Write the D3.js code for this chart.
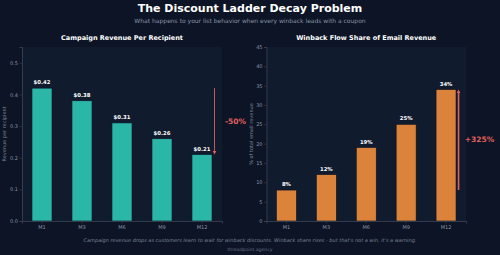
<!doctype html>
<html>
<head>
<meta charset="UTF-8">
<title>The Discount Ladder Decay Problem</title>
<script src="https://d3js.org/d3.v7.min.js"></script>
<style>
  body { margin: 0; background: #0c1425; }
  svg { display: block; font-family: "DejaVu Sans", sans-serif; }
</style>
</head>
<body>
<svg id="chart" width="500" height="255"></svg>
<script>
// data
var months = ["M1", "M3", "M6", "M9", "M12"];
var revenuePerRecipient = [0.42, 0.38, 0.31, 0.26, 0.21];
var winbackShare = [8, 12, 19, 25, 34];
var revTicks = [0, 0.1, 0.2, 0.3, 0.4, 0.5];
var shareTicks = [0, 5, 10, 15, 20, 25, 30, 35, 40, 45];

var svg = d3.select("#chart");
svg.append("rect").attr("width", 500).attr("height", 255).attr("fill", "#0c1425");

// titles
svg.append("text").attr("x", 250).attr("y", 12).attr("text-anchor", "middle")
   .attr("fill", "#ffffff").attr("font-size", 11).attr("font-weight", "bold")
   .text("The Discount Ladder Decay Problem");
svg.append("text").attr("x", 250).attr("y", 22.5).attr("text-anchor", "middle")
   .attr("fill", "#8a93a5").attr("font-size", 6)
   .text("What happens to your list behavior when every winback leads with a coupon");

function panel(opts) {
  var g = svg.append("g");
  var x = d3.scaleBand().domain(months).range([opts.x0, opts.x1])
            .paddingInner(0.5).paddingOuter(0.25);
  var y = d3.scaleLinear().domain([0, opts.ymax]).range([221, 47]);

  g.append("rect").attr("x", opts.x0).attr("y", 47)
   .attr("width", opts.x1 - opts.x0).attr("height", 221 - 47)
   .attr("fill", "#111b2e");

  g.append("text").attr("x", (opts.x0 + opts.x1) / 2).attr("y", 39.5)
   .attr("text-anchor", "middle").attr("fill", "#ffffff")
   .attr("font-size", 6.5).attr("font-weight", "bold").text(opts.title);

  g.selectAll("rect.bar").data(opts.values).enter().append("rect")
   .attr("class", "bar")
   .attr("x", function(d, i) { return x(months[i]); })
   .attr("y", function(d) { return y(d); })
   .attr("width", x.bandwidth())
   .attr("height", function(d) { return y(0) - y(d); })
   .attr("fill", opts.color)
   .attr("stroke", "#0c1425").attr("stroke-width", 0.6);

  g.selectAll("text.val").data(opts.values).enter().append("text")
   .attr("class", "val")
   .attr("x", function(d, i) { return x(months[i]) + x.bandwidth() / 2; })
   .attr("y", function(d) { return y(d) - 4; })
   .attr("text-anchor", "middle").attr("fill", "#ffffff")
   .attr("font-size", 5.3).attr("font-weight", "bold")
   .text(opts.fmt);

  var ya = g.append("g").attr("transform", "translate(" + opts.x0 + ",0)")
    .call(d3.axisLeft(y).tickValues(opts.ticks).tickSize(2.5).tickPadding(1.5)
           .tickFormat(opts.tickFmt));
  var xa = g.append("g").attr("transform", "translate(0,221)")
    .call(d3.axisBottom(x).tickSize(2.5).tickPadding(1.5));
  [ya, xa].forEach(function(a) {
    a.select(".domain").attr("stroke", "#3b4558").attr("stroke-width", 0.8);
    a.selectAll(".tick line").attr("stroke", "#3b4558").attr("stroke-width", 0.6);
    a.selectAll(".tick text").attr("fill", "#8a93a5").attr("font-size", 5)
     .attr("font-family", "DejaVu Sans, sans-serif");
  });

  g.append("text")
   .attr("transform", "translate(" + opts.ylabX + "," + 134 + ") rotate(-90)")
   .attr("text-anchor", "middle").attr("fill", "#7f889a").attr("font-size", 5)
   .text(opts.ylabel);

  // change arrow between first and last bar
  var last = opts.values.length - 1;
  var ax = x(months[last]) + x.bandwidth() / 2 + 12.5;
  var yFrom = y(opts.values[0]), yTo = y(opts.values[last]);
  var dir = yTo > yFrom ? 1 : -1;
  g.append("line").attr("x1", ax).attr("x2", ax)
   .attr("y1", yFrom).attr("y2", yTo - dir * 2)
   .attr("stroke", "#e0605f").attr("stroke-width", opts.aw);
  g.append("path")
   .attr("d", "M" + (ax - 1.8) + "," + (yTo - dir * 3.5) + " L" + (ax + 1.8) + "," + (yTo - dir * 3.5) +
              " L" + ax + "," + yTo + " Z")
   .attr("fill", "#e0605f");
  g.append("text").attr("x", ax + 21).attr("y", (yFrom + yTo) / 2 + 2.5)
   .attr("text-anchor", "middle").attr("fill", "#e0605f")
   .attr("font-size", 7.5).attr("font-weight", "bold").text(opts.change);
}

panel({
  x0: 22, x1: 222, ymax: 0.55, values: revenuePerRecipient, ticks: revTicks,
  color: "#2bb7a8", title: "Campaign Revenue Per Recipient",
  fmt: function(d) { return "$" + d.toFixed(2); },
  tickFmt: d3.format(".1f"), ylabel: "Revenue per recipient", ylabX: 6,
  change: "-50%", aw: 0.9
});
panel({
  x0: 266.5, x1: 466, ymax: 45, values: winbackShare, ticks: shareTicks,
  color: "#dc833b", title: "Winback Flow Share of Email Revenue",
  fmt: function(d) { return d + "%"; },
  tickFmt: d3.format("d"), ylabel: "% of total email revenue", ylabX: 253,
  change: "+325%", aw: 1.6
});

// footer
svg.append("text").attr("x", 250).attr("y", 242.3).attr("text-anchor", "middle")
   .attr("fill", "#7b8497").attr("font-size", 5).attr("font-style", "italic")
   .text("Campaign revenue drops as customers learn to wait for winback discounts. Winback share rises - but that's not a win, it's a warning.");
svg.append("text").attr("x", 250).attr("y", 250.5).attr("text-anchor", "middle")
   .attr("fill", "#687286").attr("font-size", 4.6)
   .text("threadpoint.agency");
</script>
</body>
</html>
